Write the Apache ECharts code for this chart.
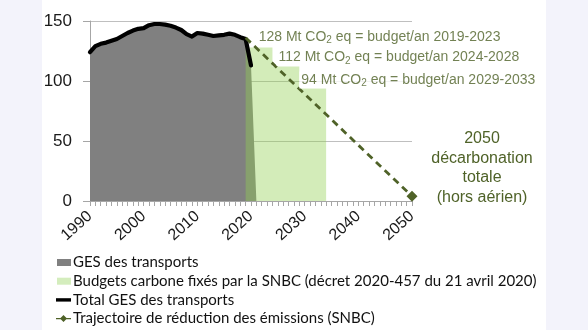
<!DOCTYPE html>
<html><head><meta charset="utf-8">
<script src="https://cdn.jsdelivr.net/npm/echarts@6/dist/echarts.min.js"></script>
<style>html,body{margin:0;padding:0;background:#f3f3fb}#c{width:588px;height:330px}</style>
</head><body><div id="c"></div>
<script>
// ---- data ----
const years = [1990,1991,1992,1993,1994,1995,1996,1997,1998,1999,2000,2001,2002,2003,2004,2005,2006,2007,2008,2009,2010,2011,2012,2013,2014,2015,2016,2017,2018,2019,2020];
const gesValues = [124,129,131,132,133.5,135,137.5,140,142,143.5,144,146.5,147.5,147.5,147,146,144.5,142.5,139,137,140,139.5,138.5,137.5,138,138.5,139.5,138.5,136.5,135,113];
const gesAreaEndYear = 2021;
const gesAreaEndValue = 0;
const budgetYears = [2019, 2024, 2029, 2034];
const budgetValues = [128, 112, 94, 94];
const budgetPeriods = ['2019-2023', '2024-2028', '2029-2033'];
const trajectoryYears = [2019, 2050];
const trajectoryValues = [136, 4];
const yTicks = [0, 50, 100, 150];
const xTicks = [1990, 2000, 2010, 2020, 2030, 2040, 2050];
const names = ['GES des transports','Budgets carbone fixés par la SNBC (décret 2020-457 du 21 avril 2020)','Total GES des transports','Trajectoire de réduction des émissions (SNBC)'];

// ---- styling ----
const olive = '#4f6228';
const labelOffsets = [[11, -10.5], [4, -9], [0, -8.3]];

const gesArea = years.map((y, i) => [y, gesValues[i]]).concat([[gesAreaEndYear, gesAreaEndValue]]);
const gesLine = years.map((y, i) => [y, gesValues[i]]);
const budgetData = budgetYears.map((y, i) => [y, budgetValues[i]]);
const trajData = trajectoryYears.map((y, i) => [y, trajectoryValues[i]]);

const chart = echarts.init(document.getElementById('c'), null, {renderer: 'canvas'});
chart.setOption({
  animation: false,
  backgroundColor: '#f3f3fb',
  graphic: [{type: 'rect', left: 42, top: 0, shape: {width: 504, height: 330}, style: {fill: '#ffffff'}, z: -10, silent: true}],
  grid: {left: 90, right: 176, top: 21, bottom: 129},
  xAxis: {
    type: 'value', min: xTicks[0], max: xTicks[xTicks.length - 1], interval: 10,
    axisLine: {lineStyle: {color: '#a6a6a6', width: 1}},
    axisTick: {show: true, length: 5, lineStyle: {color: '#a6a6a6'}},
    minorTick: {show: true, splitNumber: 10, length: 5, lineStyle: {color: '#a6a6a6'}},
    splitLine: {show: false},
    axisLabel: {rotate: 42, fontSize: 16, fontFamily: 'Liberation Sans', color: '#1a1a1a', margin: 13, formatter: v => String(v)}
  },
  yAxis: {
    type: 'value', min: yTicks[0], max: yTicks[yTicks.length - 1], interval: 50,
    axisLine: {show: true, lineStyle: {color: '#a6a6a6'}},
    axisTick: {show: true, length: 7, lineStyle: {color: '#a6a6a6'}},
    splitLine: {show: true, lineStyle: {color: '#bfbfbf'}},
    axisLabel: {fontSize: 17, fontFamily: 'Liberation Sans', color: '#1a1a1a', margin: 18}
  },
  legend: {
    orient: 'vertical', left: 56, top: 255, padding: 0, itemWidth: 15, itemHeight: 10, itemGap: 3.7,
    height: 75,
    itemStyle: {borderWidth: 0},
    textStyle: {fontFamily: 'Lato', fontSize: 15, color: '#111', padding: [0, 0, 0, -3]},
    data: [
      {name: names[0], icon: 'path://M0,0M15,10M1,1.5h14v7h-14z', itemStyle: {color: '#808080', borderWidth: 0}},
      {name: names[1], icon: 'path://M0,0M15,10M1,1.5h14v7h-14z', itemStyle: {color: '#d4edbd', borderWidth: 0}},
      {name: names[2], icon: 'path://M0,0M15,10M0,3.3h15v3.4h-15z', itemStyle: {color: '#000000', borderWidth: 0}},
      {name: names[3], icon: 'path://M0,0M15,10M0,4.3h15v1.4h-15zM7.5,1.5L11,5L7.5,8.5L4,5z', itemStyle: {color: olive, borderWidth: 0}}
    ]
  },
  series: [
    {
      name: names[0], type: 'line', data: gesArea, symbol: 'none', z: 2,
      lineStyle: {width: 0}, itemStyle: {color: '#808080'},
      areaStyle: {color: '#808080', opacity: 1}
    },
    {
      name: names[1], type: 'line', step: 'end', data: budgetData, symbol: 'none', z: 3,
      lineStyle: {width: 0}, itemStyle: {color: '#92d050'},
      areaStyle: {color: '#92d050', opacity: 0.4}
    },
    {
      name: names[2], type: 'line', data: gesLine, symbol: 'none', z: 4,
      lineStyle: {color: '#000', width: 4.2, join: 'round', cap: 'round'}, itemStyle: {color: '#000'}
    },
    {
      name: names[3], type: 'line', z: 5, symbol: 'none',
      data: trajData.map((d, i) => i === trajData.length - 1 ? {
        value: d, symbol: 'diamond', symbolSize: 11,
        label: {
          show: true, position: 'inside', offset: [70, -28], align: 'center', verticalAlign: 'middle',
          formatter: '2050\ndécarbonation\ntotale\n(hors aérien)',
          fontFamily: 'Liberation Sans', fontSize: 16, lineHeight: 19.5, color: olive
        }
      } : d),
      lineStyle: {color: olive, width: 2.8, type: [7, 5]}, itemStyle: {color: olive}
    },
    {
      name: 'annotations', type: 'scatter', z: 6, symbolSize: 0, silent: true,
      data: budgetData.slice(0, 3).map((d, i) => ({
        value: d,
        label: {
          show: true, position: 'inside', align: 'left', verticalAlign: 'middle',
          offset: labelOffsets[i],
          backgroundColor: '#ffffff', padding: [0, 2],
          formatter: budgetValues[i] + ' Mt CO{s|2} eq = budget/an ' + budgetPeriods[i],
          fontFamily: 'Liberation Sans', fontSize: 14, lineHeight: 17, color: olive,
          rich: {s: {fontFamily: 'Liberation Sans', fontSize: 10, lineHeight: 17, verticalAlign: 'bottom', color: olive}}
        }
      }))
    }
  ]
});
</script>
</body></html>
